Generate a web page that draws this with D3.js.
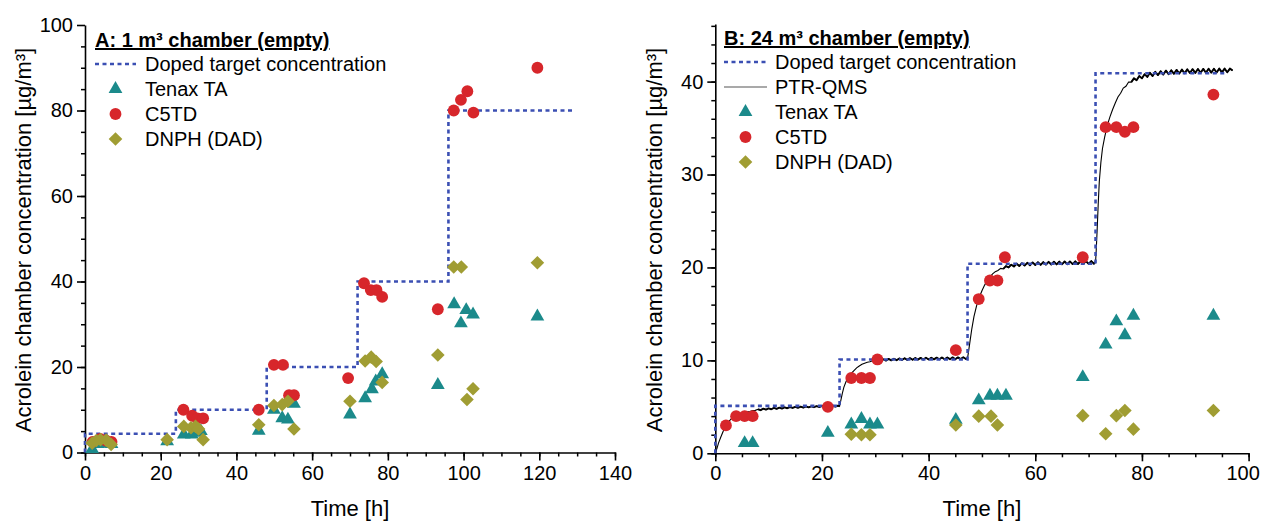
<!DOCTYPE html>
<html><head><meta charset="utf-8">
<script src="https://cdn.jsdelivr.net/npm/d3@7"></script>
<style>body{margin:0;background:#fff} text{font-family:"Liberation Sans",Arial,sans-serif;fill:#000}</style>
</head><body><svg id="c" width="1261" height="523"></svg>
<script>
// ---------- Panel A data (1 m³ chamber) ----------
const aDoped = [[0,0],[0,4.4],[24,4.4],[24,10],[48,10],[48,20],[72,20],[72,40],[96,40],[96,80],[129,80]];
const aTenax = [[1.9,0.8],[3.5,2],[5.5,2.2],[7,2],[21.7,2.6],[26.1,4.2],[28.2,4.2],[29.7,4.6],[30.6,5],[45.9,5.1],[49.9,10],[52.1,8],[53.6,7.7],[55.2,11.4],[70,8.9],[74,12.7],[75.8,14.8],[76.8,16.6],[78.5,18.3],[93.2,15.8],[97.5,34.7],[99.3,30.2],[100.7,33.3],[102.5,32.3],[119.5,31.8]];
const aC5TD = [[2,2.5],[4,3.2],[5.5,2.8],[7,2.5],[26,10],[28.3,8.6],[29.7,8],[31.2,8],[45.9,10],[49.9,20.5],[52.3,20.5],[53.9,13.4],[55.2,13.4],[69.5,17.4],[73.7,39.6],[75.5,38],[77,38],[78.5,36.4],[93.2,33.5],[97.4,80],[99.3,82.5],[101,84.5],[102.6,79.5],[119.5,90]];
const aDNPH = [[1.9,2.2],[3,2.8],[4.1,3],[5.6,2.9],[6.9,1.9],[21.7,3],[26.1,6.1],[28,5.8],[29.2,6.1],[30,5.5],[31.2,3],[45.9,6.5],[49.9,11],[52.1,11.2],[53.6,12],[55.2,5.5],[70,12],[74,21.4],[75.6,22.3],[76.9,21.3],[78.5,16.4],[93.2,22.8],[97.4,43.4],[99.4,43.4],[100.9,12.4],[102.5,14.9],[119.5,44.4]];

// ---------- Panel B data (24 m³ chamber) ----------
const bDoped = [[0,0],[0,5.1],[23.3,5.1],[23.3,10.1],[47.3,10.1],[47.3,20.4],[71.3,20.4],[71.3,40.9],[96,40.9]];
const bTenax = [[5.5,1.1],[7,1.1],[21.1,2.2],[25.5,3.1],[27.4,3.7],[29,3.1],[30.4,3.1],[45.1,3.6],[49.4,5.7],[51.5,6.2],[52.9,6.2],[54.5,6.2],[68.9,8.2],[73.2,11.7],[75.2,14.2],[76.8,12.7],[78.4,14.8],[93.4,14.8]];
const bC5TD = [[2,3],[3.9,4],[5.5,4],[7,4],[21.1,5],[25.5,8.1],[27.4,8.1],[29,8.1],[30.4,10.1],[45.1,11.1],[49.4,16.6],[51.5,18.6],[52.9,18.6],[54.3,21.1],[68.9,21.1],[73.2,35.1],[75.2,35.1],[76.8,34.6],[78.4,35.1],[93.4,38.6]];
const bDNPH = [[25.5,2.05],[27.4,2],[29,2],[45.1,3.05],[49.4,4],[51.7,4],[52.9,3.05],[68.9,4.05],[73.2,2.1],[75.2,4.05],[76.8,4.6],[78.4,2.6],[93.4,4.6]];
const bPTR = [[0,0],[0.3,0.5],[0.6,1.1],[1,1.7],[1.5,2.4],[2,3.0],[2.5,3.4],[3,3.7],[3.5,3.95],[4,4.1],[4.5,4.2],[5,4.32],[5.5,4.38],[6,4.48],[6.5,4.5],[7,4.6],[7.5,4.62],
[8,4.74],[8.5,4.64],[9,4.8],[9.5,4.7],[10,4.84],[10.5,4.74],[11,4.88],[11.5,4.78],[12,4.92],[12.5,4.82],[13,4.95],[13.5,4.85],[14,4.98],[14.5,4.88],[15,5.0],[15.5,4.9],[16,5.02],[16.5,4.92],[17,5.04],[17.5,4.94],[18,5.06],[18.5,4.96],[19,5.08],[19.5,4.98],[20,5.1],[20.5,5.0],[21,5.11],[21.5,5.01],[22,5.12],[22.5,5.02],[23,5.13],[23.3,5.06],
[23.5,5.6],[23.8,6.4],[24.1,7.1],[24.5,7.7],[25,8.2],[25.5,8.6],[26,8.9],[26.5,9.2],[27,9.4],[27.5,9.58],[28,9.7],[28.5,9.8],[29,9.86],[29.5,9.96],
[30,9.9],[30.5,10.08],[31,9.93],[31.5,10.12],[32,9.97],[32.5,10.16],[33,10.0],[33.5,10.18],[34,10.02],[34.5,10.21],[35,10.04],[35.5,10.23],[36,10.05],[36.5,10.24],[37,10.07],[37.5,10.26],[38,10.08],[38.5,10.27],[39,10.09],[39.5,10.28],[40,10.1],[40.5,10.29],[41,10.11],[41.5,10.3],[42,10.12],[42.5,10.31],[43,10.12],[43.5,10.31],[44,10.13],[44.5,10.32],[45,10.13],[45.5,10.32],[46,10.14],[46.5,10.33],[47,10.15],[47.3,10.25],
[47.5,11.0],[47.8,12.2],[48.1,13.4],[48.5,14.7],[49,15.9],[49.5,16.8],[50,17.5],[50.5,18.1],[51,18.6],[51.5,19.0],[52,19.3],[52.5,19.55],[53,19.68],[53.5,19.9],
[54,19.85],[54.5,20.15],[55,20.0],[55.5,20.3],[56,20.1],[56.5,20.4],[57,20.16],[57.5,20.46],[58,20.2],[58.5,20.5],[59,20.24],[59.5,20.54],[60,20.26],[60.5,20.56],[61,20.28],[61.5,20.58],[62,20.3],[62.5,20.6],[63,20.32],[63.5,20.62],[64,20.33],[64.5,20.63],[65,20.34],[65.5,20.64],[66,20.35],[66.5,20.65],[67,20.36],[67.5,20.66],[68,20.37],[68.5,20.67],[69,20.38],[69.5,20.68],[70,20.39],[70.5,20.69],[71,20.4],[71.3,20.6],
[71.4,21.5],[71.6,24],[71.8,26.8],[72,29.2],[72.3,31.3],[72.6,32.8],[73,34.0],[73.5,35.3],[74,36.2],[74.5,37.0],[75,37.7],[75.5,38.35],[76,38.75],[76.5,39.3],[77,39.5],[77.5,39.95],
[78,39.95],[78.5,40.35],[79,40.15],[79.5,40.6],[80,40.35],[80.5,40.8],[81,40.5],[81.5,40.95],[82,40.6],[82.5,41.05],[83,40.7],[83.5,41.12],[84,40.76],[84.5,41.18],[85,40.8],[85.5,41.22],[86,40.84],[86.5,41.26],[87,40.87],[87.5,41.29],[88,40.9],[88.5,41.32],[89,40.92],[89.5,41.34],[90,40.94],[90.5,41.36],[91,40.95],[91.5,41.37],[92,40.96],[92.5,41.38],[93,40.97],[93.5,41.39],[94,40.98],[94.5,41.4],[95,40.99],[95.5,41.4],[96,41.0],[96.5,41.4],[97,41.2]];
// time windows where the PTR-QMS trace is a steady (noisy) plateau
const bPlateaus = [[8,23.3],[30,47.3],[54,71.3],[78,97]];

// ---------- tick labels ----------
const aXTicks = [0,20,40,60,80,100,120,140];
const aYTicks = [0,20,40,60,80,100];
const bXTicks = [0,20,40,60,80,100];
const bYTicks = [0,10,20,30,40];

const COL = {tenax:"#1b8a8b", c5td:"#d7262b", dnph:"#a09d33", doped:"#3b4fb3", ptr:"#000"};
const svg = d3.select("#c");

function panel(o){
  const g = svg.append("g");
  const x = d3.scaleLinear().domain(o.xDom).range(o.xRange);
  const y = d3.scaleLinear().domain(o.yDom).range(o.yRange);
  // minor ticks
  g.append("g").attr("transform",`translate(0,${o.yRange[0]})`)
    .call(d3.axisBottom(x).tickValues(d3.range(o.xDom[0],o.xDom[1]+0.01,o.xMinor)).tickSize(4).tickFormat("").tickSizeOuter(0))
    .call(s=>s.select(".domain").remove()).selectAll("line").attr("stroke-width",1.5);
  g.append("g").attr("transform",`translate(${o.xRange[0]},0)`)
    .call(d3.axisLeft(y).tickValues(d3.range(0,o.yDom[1],o.yMinor)).tickSize(4).tickFormat("").tickSizeOuter(0))
    .call(s=>s.select(".domain").remove()).selectAll("line").attr("stroke-width",1.5);
  // major axes
  const xa = g.append("g").attr("transform",`translate(0,${o.yRange[0]})`)
    .call(d3.axisBottom(x).tickValues(o.xTicks).tickSize(8).tickPadding(5).tickSizeOuter(0));
  const ya = g.append("g").attr("transform",`translate(${o.xRange[0]},0)`)
    .call(d3.axisLeft(y).tickValues(o.yTicks).tickSize(8).tickPadding(4).tickSizeOuter(0));
  [xa,ya].forEach(a=>{a.select(".domain").attr("stroke-width",1.6);a.selectAll("line").attr("stroke-width",1.6);
    a.selectAll("text").style("font-size","20px").style("font-family",'"Liberation Sans",Arial,sans-serif');});
  if(o.lastShift) xa.selectAll(".tick").filter(d=>d===o.xTicks[o.xTicks.length-1]).select("text").attr("dx",o.lastShift);
  // axis titles
  g.append("text").attr("x",(o.xRange[0]+o.xRange[1])/2).attr("y",516).attr("text-anchor","middle")
    .style("font-size","22px").text("Time [h]");
  g.append("text").attr("transform",`translate(${o.yLabX},${o.yLabY}) rotate(-90)`).attr("text-anchor","middle")
    .style("font-size","22px").text("Acrolein chamber concentration [µg/m³]");
  const line = d3.line().x(d=>x(d[0])).y(d=>y(d[1]));
  if(o.ptr){
    g.append("path").datum(o.ptr).attr("d",line).attr("fill","none").attr("stroke",COL.ptr).attr("stroke-width",1.1);
    o.plateaus.forEach(p=>{
      g.append("path").datum(o.ptr.filter(d=>d[0]>=p[0]&&d[0]<=p[1])).attr("d",line).attr("fill","none")
        .attr("stroke",COL.ptr).attr("stroke-width",1.9).attr("stroke-linejoin","round");
    });
  }
  g.append("path").datum(o.doped).attr("d",line).attr("fill","none").attr("stroke",COL.doped)
    .attr("stroke-width",2.6).attr("stroke-dasharray","4,3.5");
  const sym = {tenax:d3.symbol(d3.symbolTriangle,82), c5td:d3.symbol(d3.symbolCircle,110), dnph:d3.symbol(d3.symbolDiamond2,118)};
  function pts(data,key){
    g.append("g").selectAll("path").data(data).join("path")
      .attr("transform",d=>`translate(${x(d[0])},${y(d[1])})`).attr("d",sym[key]()).attr("fill",COL[key]);
  }
  pts(o.tenax,"tenax"); pts(o.c5td,"c5td"); pts(o.dnph,"dnph");
  // legend
  const L = o.leg;
  g.append("text").attr("x",L.x).attr("y",L.y0).style("font-size","20px").style("font-weight","bold")
    .attr("text-decoration","underline").text(o.title);
  let rows = [{t:"Doped target concentration",k:"doped"}];
  if(o.ptr) rows.push({t:"PTR-QMS",k:"ptr"});
  rows.push({t:"Tenax TA",k:"tenax"},{t:"C5TD",k:"c5td"},{t:"DNPH (DAD)",k:"dnph"});
  rows.forEach((r,i)=>{
    const cy = L.y1 + i*L.dy;
    if(r.k==="doped") g.append("line").attr("x1",L.x).attr("x2",L.x+L.lw).attr("y1",cy).attr("y2",cy)
      .attr("stroke",COL.doped).attr("stroke-width",2.6).attr("stroke-dasharray","4,3.5");
    else if(r.k==="ptr") g.append("line").attr("x1",L.x).attr("x2",L.x+L.lw).attr("y1",cy).attr("y2",cy)
      .attr("stroke","#555").attr("stroke-width",1.1);
    else g.append("path").attr("transform",`translate(${L.x+L.lw/2},${cy})`).attr("d",sym[r.k]()).attr("fill",COL[r.k]);
    g.append("text").attr("x",L.tx).attr("y",cy).attr("dy","0.35em").style("font-size","20px").text(r.t);
  });
}

panel({xDom:[0,140],xRange:[85,615],yDom:[0,100],yRange:[452.5,25],xTicks:aXTicks,yTicks:aYTicks,xMinor:5,yMinor:5,
  yLabX:31,yLabY:240,doped:aDoped,tenax:aTenax,c5td:aC5TD,dnph:aDNPH,title:"A: 1 m³ chamber (empty)",
  leg:{x:95,y0:47,y1:64,dy:25,lw:41,tx:145}});
panel({xDom:[0,100],xRange:[715.3,1248.6],yDom:[0,46.2],yRange:[453.3,24],xTicks:bXTicks,yTicks:bYTicks,xMinor:5,yMinor:2,
  yLabX:662,yLabY:240,doped:bDoped,ptr:bPTR,plateaus:bPlateaus,tenax:bTenax,c5td:bC5TD,dnph:bDNPH,title:"B: 24 m³ chamber (empty)",
  leg:{x:724,y0:45,y1:62,dy:25,lw:43,tx:775},lastShift:-6});
</script></body></html>
